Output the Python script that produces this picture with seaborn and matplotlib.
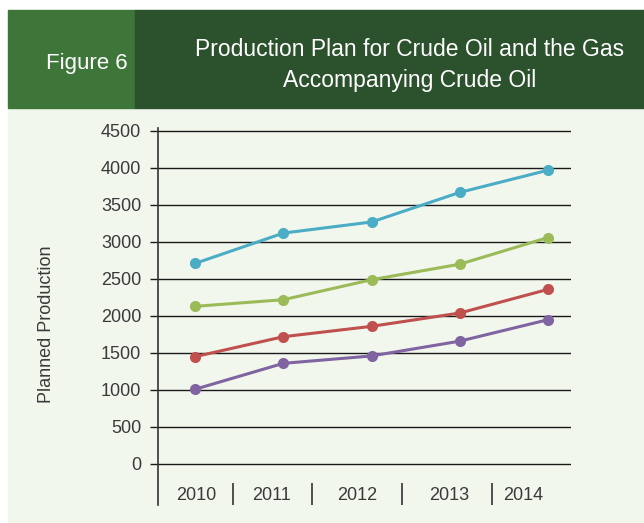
import matplotlib
matplotlib.use("Agg")
import matplotlib.pyplot as plt
import numpy as np
import pandas as pd
import seaborn as sns
from matplotlib.patches import Rectangle

# values
years = [2010, 2011, 2012, 2013, 2014]
series_a = [2710, 3120, 3270, 3670, 3970]   # blue
series_b = [2130, 2220, 2490, 2700, 3060]   # green
series_c = [1450, 1720, 1860, 2040, 2360]   # red
series_d = [1010, 1360, 1460, 1660, 1950]   # purple

SERIES = {"A": series_a, "B": series_b, "C": series_c, "D": series_d}
COLOURS = {"A": "#4BACC6", "B": "#9BBB59", "C": "#C0504D", "D": "#8064A2"}

# year label positions / separators in the odd hand-laid layout
label_pos = [2010.01, 2010.87, 2011.84, 2012.88, 2013.72]
sep_pos = [2010.43, 2011.32, 2012.35, 2013.36]
y_ticks = list(range(0, 5000, 500))

df = pd.DataFrame(
    [(y, v, name) for name, vals in SERIES.items() for y, v in zip(years, vals)],
    columns=["year", "value", "series"],
)

sns.set_theme(style="white")
plt.rcParams["font.family"] = ["Liberation Sans", "DejaVu Sans"]

W, H = 644, 523
BG = "#F2F7EE"
TXT = "#3a3a3a"
fig = plt.figure(figsize=(W / 100, H / 100), dpi=100)
fig.patch.set_facecolor("white")

# background panels
fig.patches.append(Rectangle((8 / W, 0.5 / H), 1, (H - 108 - 0.5) / H,
                             transform=fig.transFigure, color=BG, zorder=-2))
fig.patches.append(Rectangle((8 / W, 1 - 108 / H), 127 / W, 98 / H,
                             transform=fig.transFigure, color="#3E763A", zorder=-1))
fig.patches.append(Rectangle((135 / W, 1 - 108 / H), 1, 98 / H,
                             transform=fig.transFigure, color="#2C522D", zorder=-1))
fig.text(87 / W, 1 - 63 / H, "Figure 6", color="white", fontsize=16,
         ha="center", va="center")
fig.text(410 / W, 1 - 65 / H,
         "Production Plan for Crude Oil and the Gas\nAccompanying Crude Oil",
         color="white", fontsize=16.5, ha="center", va="center", linespacing=1.4)

ax = fig.add_axes([158 / W, 1 - 505 / H, (571 - 158) / W, (505 - 128) / H])
ax.set_facecolor(BG)

sns.lineplot(data=df, x="year", y="value", hue="series", palette=COLOURS,
             marker="o", markersize=8, markeredgewidth=0, linewidth=2.2,
             legend=False, ax=ax, zorder=3)

ax.set_xlim(2009.58, 2014.26)
ax.set_ylim(-554, 4540)
ax.set_yticks(y_ticks)
ax.set_yticklabels([str(t) for t in y_ticks], fontsize=13, color=TXT)
ax.grid(axis="y", color="#1a1a1a", linewidth=1)
ax.tick_params(axis="y", which="major", direction="out", length=6,
               width=1, color="#1a1a1a", pad=6, left=True)

ax.set_xticks(sep_pos)
ax.set_xticklabels([])
ax.tick_params(axis="x", which="major", direction="in", length=16,
               width=1.2, color="#333333", bottom=True)
ax.set_xticks(label_pos, minor=True)
ax.set_xticklabels([str(y) for y in years], minor=True, fontsize=13,
                   color=TXT)
ax.tick_params(axis="x", which="minor", length=0, pad=-13)

for side in ("top", "right", "bottom"):
    ax.spines[side].set_visible(False)
ax.spines["left"].set_color("#333333")
ax.spines["left"].set_linewidth(1.2)

ax.set_xlabel("")
ax.set_ylabel("")
fig.text(47 / W, 1 - 324 / H, "Planned Production", rotation=90,
         fontsize=13, color=TXT, ha="center", va="center")

fig.savefig("out.png", dpi=100, facecolor=fig.get_facecolor())
